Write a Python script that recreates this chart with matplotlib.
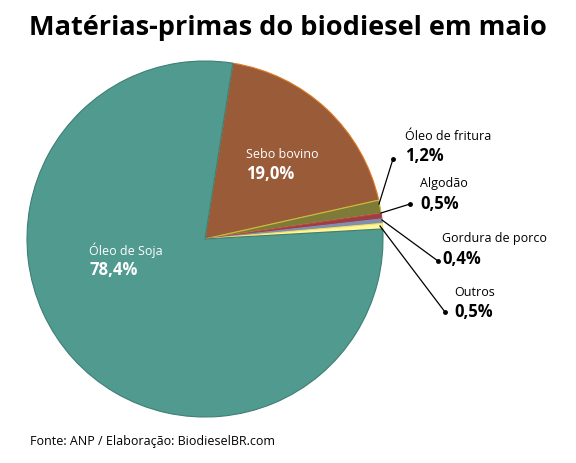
import matplotlib.pyplot as plt

labels = ["Sebo bovino", "Óleo de fritura", "Algodão", "Gordura de porco", "Outros", "Óleo de Soja"]
values = [19.0, 1.2, 0.5, 0.4, 0.5, 78.4]
value_text = ["19,0", "1,2", "0,5", "0,4", "0,5", "78,4"]
colors = ["#9A5B38", "#7E7B39", "#9A3F45", "#7F8FAE", "#FFF59C", "#509A8F"]
edges = ["#E07A20", "#C8C040", "#C04040", "#8090B0", "#F0E060", "#3E7F74"]

fig = plt.figure(figsize=(5.76, 4.64), dpi=100)
ax = fig.add_axes([0.0, 0.0, 1.0, 1.0])

def Y(y):
    return 464 - y

cx, cy, r = 205, 240, 178
wedges, _ = ax.pie(values, colors=colors, startangle=81, counterclock=False,
                   center=(cx, Y(cy)), radius=r, frame=True,
                   wedgeprops=dict(linewidth=0.8))
for w, e in zip(wedges, edges):
    w.set_edgecolor(e)
ax.set_xlim(0, 576); ax.set_ylim(0, 464); ax.axis('off')
ax.set_aspect('equal')

fam = ['Open Sans', 'DejaVu Sans']
fig.text(0.5, 1 - 28/464, "Matérias-primas do biodiesel em maio", ha='center', va='center',
         fontsize=19.5, fontweight='bold', family=fam)
fig.text(30/576, 1 - 441/464, "Fonte: ANP / Elaboração: BiodieselBR.com", ha='left', va='center',
         fontsize=9, family=fam)

def labv(x, y, name, v, color='black'):
    ax.text(x, Y(y), name, fontsize=9, family=fam, color=color, va='center')
    ax.text(x, Y(y + 20), v + "%", fontsize=12, fontweight='bold', family=fam, color=color, va='center')

labv(246, 154, labels[0], value_text[0], 'white')
labv(89, 250, labels[5], value_text[5], 'white')
labv(405, 136, labels[1], value_text[1])
labv(420, 184, labels[2], value_text[2])
labv(442, 239, labels[3], value_text[3])
labv(454, 292, labels[4], value_text[4])

lines = [((379, 205), (393, 160)), ((381, 214), (410, 205)),
         ((382, 221), (438, 262)), ((380, 227), (445, 313))]
for (x0, y0), (x1, y1) in lines:
    ax.plot([x0, x1], [Y(y0), Y(y1)], color='black', lw=0.9)
    ax.plot([x1], [Y(y1)], 'o', color='black', ms=2.5)

fig.savefig("out.png", dpi=100)
